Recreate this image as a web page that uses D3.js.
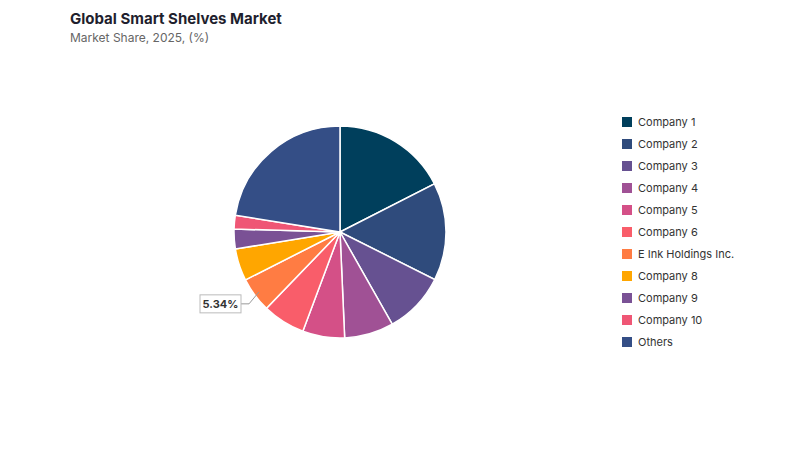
<!DOCTYPE html>
<html><head><meta charset="utf-8">
<script src="https://cdn.jsdelivr.net/npm/d3@7"></script>
<style>body{margin:0;background:#fff;font-family:Inter,"Noto Sans",sans-serif}</style>
</head><body><svg id="c" width="800" height="450"></svg>
<script>
var categories = ['Company 1','Company 2','Company 3','Company 4','Company 5','Company 6','E Ink Holdings Inc.','Company 8','Company 9','Company 10','Others'];
var shares = [17.5, 14.9, 9.4, 7.5, 6.4, 6.5, 5.34, 4.9, 3.0, 2.1, 22.46];
var colors = ['#003f5c','#2f4b7c','#665191','#a05195','#d45087','#f95d6a','#ff7c43','#ffa600','#7a5195','#ef5675','#344e86'];

var svg = d3.select('#c');
svg.append('text').attr('x',70).attr('y',24).attr('font-size',15).attr('font-weight',700).attr('fill','#1f1f2e').text('Global Smart Shelves Market');
svg.append('text').attr('x',70).attr('y',42).attr('font-size',12).attr('fill','#666').text('Market Share, 2025, (%)');

var cx = 340, cy = 232, r = 106;
var pie = d3.pie().sort(null).value(function(d){return d;});
var arc = d3.arc().innerRadius(0).outerRadius(r);
var arcs = pie(shares);
var g = svg.append('g').attr('transform','translate('+cx+','+cy+')');
g.selectAll('path').data(arcs).enter().append('path')
  .attr('d',arc).attr('fill',function(d,i){return colors[i];})
  .attr('stroke','#fff').attr('stroke-width',1.5);

// callout for E Ink
var a = arcs[6], mid = (a.startAngle + a.endAngle)/2;
var px = Math.sin(mid)*r*0.95, py = -Math.cos(mid)*r*0.95;
g.append('polyline').attr('points',[[px,py],[px-10,py+12],[-99,py+12]].join(' '))
  .attr('fill','none').attr('stroke','#999').attr('stroke-width',1);
var lx = cx - 99, ly = cy + py + 12;
svg.append('rect').attr('x',lx-41).attr('y',ly-9).attr('width',41).attr('height',18)
  .attr('fill','#fff').attr('stroke','#bbb');
svg.append('text').attr('x',lx-20.5).attr('y',ly+4).attr('text-anchor','middle')
  .attr('font-size',11).attr('font-weight',700).attr('fill','#333').text(shares[6].toFixed(2)+'%');

var leg = svg.append('g');
categories.forEach(function(c,i){
  var y = 122 + i*22;
  leg.append('rect').attr('x',622).attr('y',y-5).attr('width',10).attr('height',10).attr('fill',colors[i]);
  leg.append('text').attr('x',638).attr('y',y+4).attr('font-size',11).attr('fill','#333').text(c);
});
</script></body></html>
